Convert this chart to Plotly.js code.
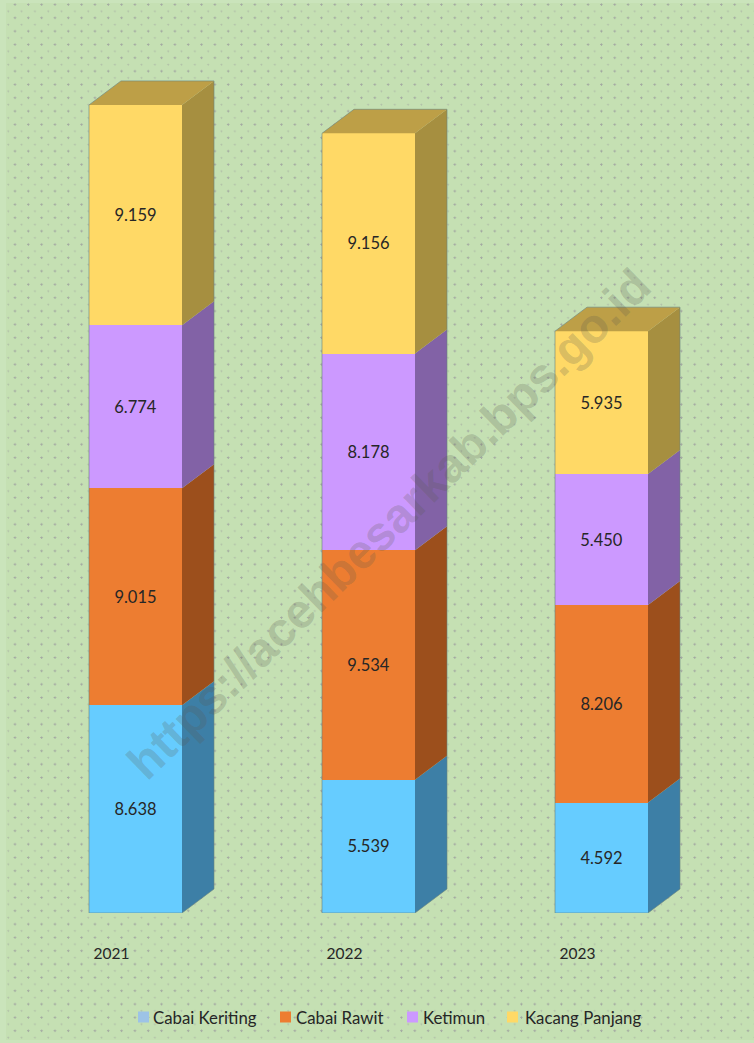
<!DOCTYPE html>
<html>
<head>
<meta charset="utf-8">
<script src="https://cdn.plot.ly/plotly-3.0.1.min.js"></script>
<style>
html,body{margin:0;padding:0;background:#cae4bb;width:754px;height:1043px;overflow:hidden}
#bg{position:absolute;left:6px;top:3px;width:748px;height:1037px;background-color:#c5e0b3;
background-image:radial-gradient(circle at 9px 1.5px,rgba(140,130,150,.6) .9px,transparent 1.2px),radial-gradient(circle at 2.33px 8.17px,rgba(140,130,150,.35) .8px,transparent 1.1px);
background-size:13.33px 13.33px}
#chart{position:absolute;left:0;top:0;width:754px;height:1043px}
</style>
</head>
<body>
<div id="bg"></div>
<div id="chart"></div>
<script>
const years = [2021, 2022, 2023];
const seriesNames = ['Cabai Keriting', 'Cabai Rawit', 'Ketimun', 'Kacang Panjang'];
const cabaiKeriting = [8638, 5539, 4592];
const cabaiRawit = [9015, 9534, 8206];
const ketimun = [6774, 8178, 5450];
const kacangPanjang = [9159, 9156, 5935];
const allSeries = [cabaiKeriting, cabaiRawit, ketimun, kacangPanjang];
const frontColors = ['#66ccff', '#ed7d31', '#cc99ff', '#ffd966'];
const sideColors = ['#3d7fa6', '#9c4f1c', '#8262a6', '#a68f40'];
const topColor = '#bd9f47';
const legendColors = ['#9dc3e6', '#ed7d31', '#cc99ff', '#ffd966'];

const PXW = 754, BASE = 913;
const pxPerX = 233, pxPerY = 0.02406;
const barW = 93 / pxPerX, dx = 32 / pxPerX, dy = 24 / pxPerY;
const xMin = 2021 - 135.5 / pxPerX, xMax = xMin + PXW / pxPerX;
const yMax = BASE / pxPerY;
const outline = 'rgba(105,130,125,0.6)';

const traces = [];
// front faces
allSeries.forEach((vals, s) => {
  traces.push({
    type: 'bar', x: years, y: vals, name: seriesNames[s], width: barW,
    marker: {color: frontColors[s], line: {width: 0}},
    texttemplate: '%{y:,.0f}', textposition: 'inside', insidetextanchor: 'middle',
    textangle: 0, constraintext: 'none',
    insidetextfont: {family: 'Lato, sans-serif', size: 16.5, color: '#262626'},
    hoverinfo: 'skip', showlegend: false
  });
});
// depth faces derived from the same values
years.forEach((yr, i) => {
  let cum = 0;
  const r = yr + barW / 2, l = yr - barW / 2;
  allSeries.forEach((vals, s) => {
    const lo = cum, hi = cum + vals[i];
    traces.push({
      type: 'scatter', mode: 'lines', fill: 'toself', fillcolor: sideColors[s],
      x: [r, r + dx, r + dx, r, r], y: [lo, lo + dy, hi + dy, hi, lo],
      line: {width: 0}, hoverinfo: 'skip', showlegend: false
    });
    cum = hi;
  });
  traces.push({
    type: 'scatter', mode: 'lines', fill: 'toself', fillcolor: topColor,
    x: [l, r, r + dx, l + dx, l], y: [cum, cum, cum + dy, cum + dy, cum],
    line: {width: 0}, hoverinfo: 'skip', showlegend: false
  });
  traces.push({
    type: 'scatter', mode: 'lines',
    x: [l, r, r + dx, r + dx, l + dx, l, l],
    y: [0, 0, dy, cum + dy, cum + dy, cum, 0],
    line: {width: 1, color: outline}, hoverinfo: 'skip', showlegend: false
  });
});

const legendFont = {family: 'Lato, sans-serif', size: 16.8, color: '#262626'};
const swatchX = [138, 280, 407, 507];
const legendTextX = [152, 295, 422, 524];
const legY = 1017;
const py = p => (BASE - p) / BASE;

const annotations = seriesNames.map((n, i) => ({
  text: n, xref: 'paper', yref: 'paper', x: legendTextX[i] / PXW, y: py(legY),
  xanchor: 'left', yanchor: 'middle', showarrow: false, font: legendFont, borderpad: 0
}));
annotations.push({
  text: '<b>https://acehbesarkab.bps.go.id</b>', xref: 'paper', yref: 'paper',
  x: 389 / PXW, y: py(523), xanchor: 'center', yanchor: 'middle', showarrow: false,
  textangle: -44.2, font: {family: 'Liberation Sans, Arial, sans-serif', size: 48, color: 'rgba(90,90,80,0.24)'}
});
const shapes = seriesNames.map((n, i) => ({
  type: 'rect', xref: 'paper', yref: 'paper', line: {width: 0}, fillcolor: legendColors[i],
  x0: swatchX[i] / PXW, x1: (swatchX[i] + 11) / PXW, y0: py(legY + 5.5), y1: py(legY - 5.5)
}));

const layout = {
  width: 754, height: 1043, margin: {l: 0, r: 0, t: 0, b: 130, pad: 0},
  paper_bgcolor: 'rgba(0,0,0,0)', plot_bgcolor: 'rgba(0,0,0,0)',
  barmode: 'stack', separators: ',.', showlegend: false, hovermode: false,
  xaxis: {
    range: [xMin, xMax], tickvals: years.map(y => y - 24 / pxPerX), ticktext: years.map(String),
    tickmode: 'array', showgrid: false, zeroline: false, showline: false,
    ticks: 'outside', ticklen: 26, tickcolor: 'rgba(0,0,0,0)',
    tickfont: {family: 'Lato, sans-serif', size: 15.5, color: '#262626'}
  },
  yaxis: {range: [0, yMax], visible: false, showgrid: false, zeroline: false},
  annotations, shapes
};
Plotly.newPlot('chart', traces, layout, {displayModeBar: false, staticPlot: true});
</script>
</body>
</html>
